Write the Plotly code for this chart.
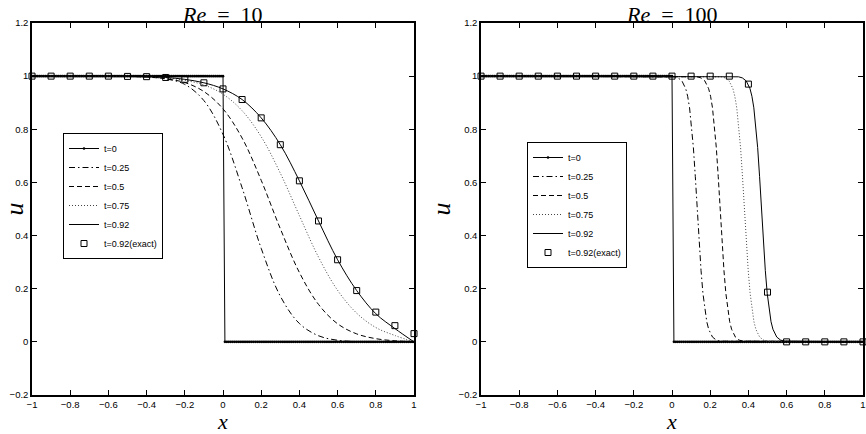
import numpy as np
import plotly.graph_objects as go

# ---------------- data ----------------
# grid used for the initial step (t=0)
x_grid = np.round(np.linspace(-1.0, 1.0, 201), 2)
u_t0 = [1.0] * 101 + [0.0] * 100

# Re = 10 numerical curves
x_re10 = [-1.0, -0.6, -0.5, -0.4, -0.3, -0.2, -0.1, 0.0, 0.1, 0.2, 0.3, 0.4, 0.5, 0.6, 0.7, 0.8, 0.9, 1.0]
u10_t025 = [1.0, 1.0, 0.9995, 0.9975, 0.990, 0.969, 0.908, 0.781, 0.580, 0.352, 0.172, 0.069, 0.023, 0.006, 0.001, 0.0, 0.0, 0.0]
u10_t050 = [1.0, 0.9996, 0.9988, 0.9965, 0.990, 0.976, 0.942, 0.877, 0.767, 0.608, 0.426, 0.261, 0.141, 0.068, 0.030, 0.012, 0.004, 0.0]
u10_t075 = [1.0, 0.9995, 0.9988, 0.997, 0.993, 0.984, 0.967, 0.932, 0.870, 0.772, 0.635, 0.475, 0.319, 0.194, 0.108, 0.054, 0.024, 0.0]
u10_t092 = [1.0, 1.0, 0.999, 0.998, 0.995, 0.988, 0.975, 0.952, 0.912, 0.843, 0.742, 0.606, 0.455, 0.309, 0.193, 0.106, 0.050, 0.0]

# exact solution samples (squares)
x_exact = [-1.0, -0.9, -0.8, -0.7, -0.6, -0.5, -0.4, -0.3, -0.2, -0.1, 0.0,
           0.1, 0.2, 0.3, 0.4, 0.5, 0.6, 0.7, 0.8, 0.9, 1.0]
u10_exact = [1.0, 1.0, 1.0, 1.0, 1.0, 0.999, 0.998, 0.995, 0.988, 0.975, 0.952,
             0.912, 0.843, 0.742, 0.606, 0.455, 0.309, 0.193, 0.112, 0.061, 0.031]
u100_exact = [1.0, 1.0, 1.0, 1.0, 1.0, 1.0, 1.0, 1.0, 1.0, 1.0, 1.0,
              1.0, 1.0, 1.0, 0.970, 0.187, 0.0, 0.0, 0.0, 0.0, 0.0]

# Re = 100 numerical curves (steep fronts)
u100_front = [1.0, 0.9975, 0.9933, 0.9820, 0.9526, 0.9241, 0.8808, 0.8176, 0.7311, 0.6225, 0.5,
              0.3775, 0.2689, 0.1824, 0.1192, 0.0759, 0.0474, 0.0180, 0.0067, 0.0025, 0.0]
x100_t025 = [-1.0, 0.012, 0.032, 0.052, 0.072, 0.082, 0.092, 0.102, 0.112, 0.122, 0.132,
             0.142, 0.152, 0.162, 0.172, 0.182, 0.192, 0.212, 0.232, 0.252, 1.0]
x100_t050 = [-1.0, 0.132, 0.152, 0.172, 0.192, 0.202, 0.212, 0.222, 0.232, 0.242, 0.252,
             0.262, 0.272, 0.282, 0.292, 0.302, 0.312, 0.332, 0.352, 0.372, 1.0]
x100_t075 = [-1.0, 0.259, 0.279, 0.299, 0.319, 0.329, 0.339, 0.349, 0.359, 0.369, 0.379,
             0.389, 0.399, 0.409, 0.419, 0.429, 0.439, 0.459, 0.479, 0.499, 1.0]
x100_t092 = [-1.0, 0.3485, 0.3685, 0.3885, 0.4085, 0.4185, 0.4285, 0.4385, 0.4485, 0.4585, 0.4685,
             0.4785, 0.4885, 0.4985, 0.5085, 0.5185, 0.5285, 0.5485, 0.5685, 0.5885, 1.0]

x_tickvals = [-1, -0.8, -0.6, -0.4, -0.2, 0, 0.2, 0.4, 0.6, 0.8, 1]
x_ticktext = ["\u22121", "\u22120.8", "\u22120.6", "\u22120.4", "\u22120.2", "0", "0.2", "0.4", "0.6", "0.8", "1"]
y_tickvals = [-0.2, 0, 0.2, 0.4, 0.6, 0.8, 1, 1.2]
y_ticktext = ["\u22120.2", "0", "0.2", "0.4", "0.6", "0.8", "1", "1.2"]

names = ["t=0", "t=0.25", "t=0.5", "t=0.75", "t=0.92", "t=0.92(exact)"]
panel_titles = ["<i>Re</i>\u2002=\u200210", "<i>Re</i>\u2002=\u2002100"]

# ---------------- figure ----------------
W, H = 866, 434
fig = go.Figure()

DASH = "5px,3px"
DASHDOT = "6px,3px,1.5px,3px"
DOT = "1px,2px"


def add_panel(xa, ya, legend, curves, shapes, exact_u):
    # t=0
    fig.add_trace(go.Scatter(x=x_grid, y=u_t0, mode="lines+markers", name=names[0],
                             line=dict(color="black", width=1),
                             marker=dict(symbol="circle", size=2.6, color="black"),
                             xaxis=xa, yaxis=ya, legend=legend, cliponaxis=False))
    styles = [(DASHDOT, "black"), (DASH, "black"), (DOT, "#444444"), ("solid", "black")]
    for (cx, cy), (dash, col), nm, shp in zip(curves, styles, names[1:5], shapes):
        fig.add_trace(go.Scatter(x=cx, y=cy, mode="lines", name=nm,
                                 line=dict(color=col, width=1, dash=dash, shape=shp),
                                 xaxis=xa, yaxis=ya, legend=legend))
    fig.add_trace(go.Scatter(x=x_exact, y=exact_u, mode="markers", name=names[5],
                             marker=dict(symbol="square-open", size=6, color="black",
                                         line=dict(width=1, color="black")),
                             xaxis=xa, yaxis=ya, legend=legend, cliponaxis=False))


add_panel("x", "y", "legend",
          [(x_re10, u10_t025), (x_re10, u10_t050), (x_re10, u10_t075), (x_re10, u10_t092)],
          ["spline"] * 4, u10_exact)
add_panel("x2", "y2", "legend2",
          [(x100_t025, u100_front), (x100_t050, u100_front), (x100_t075, u100_front), (x100_t092, u100_front)],
          ["linear"] * 4, u100_exact)

tickfont = dict(family="Liberation Sans, Arial, sans-serif", size=9.5, color="black")
xtitlefont = dict(family="Liberation Serif, serif", size=22, color="black")
ytitlefont = dict(family="Liberation Serif, serif", size=26, color="black")

ydom = [39 / H, 411 / H]
common_x = dict(range=[-1, 1], tickvals=x_tickvals, ticktext=x_ticktext, ticks="inside", ticklen=5,
                tickwidth=1, tickcolor="black", mirror="ticks", showline=True, linecolor="black",
                linewidth=1.5, showgrid=False, zeroline=False, tickfont=tickfont, automargin=False,
                ticklabeloverflow="allow",
                title=dict(text="<i>x</i>", font=xtitlefont, standoff=0))
common_y = dict(range=[-0.2, 1.2], tickvals=y_tickvals, ticktext=y_ticktext, ticks="inside", ticklen=5,
                tickwidth=1, tickcolor="black", mirror="ticks", showline=True, linecolor="black",
                linewidth=1.5, showgrid=False, zeroline=False, tickfont=tickfont, domain=ydom,
                automargin=False, ticklabeloverflow="allow",
                title=dict(text="<i>u</i>", font=ytitlefont, standoff=0))

legend_common = dict(xanchor="left", yanchor="top", bordercolor="black", borderwidth=1,
                     bgcolor="white", itemwidth=30, tracegroupgap=0,
                     font=dict(family="Liberation Sans, Arial, sans-serif", size=9, color="black"))

fig.update_layout(
    width=W, height=H,
    margin=dict(l=0, r=0, t=0, b=0, autoexpand=False),
    paper_bgcolor="white", plot_bgcolor="white",
    xaxis=dict(domain=[32 / W, 414 / W], anchor="y", **common_x),
    yaxis=dict(anchor="x", **common_y),
    xaxis2=dict(domain=[481 / W, 863 / W], anchor="y2", **common_x),
    yaxis2=dict(anchor="x2", **common_y),
    legend=dict(x=63 / W, y=1 - 133 / H, **legend_common),
    legend2=dict(x=527 / W, y=1 - 142 / H, **legend_common),
    showlegend=True,
    annotations=[
        dict(text=panel_titles[0], x=(32 + 414) / 2 / W, y=1.0, xref="paper", yref="paper",
             showarrow=False, xanchor="center", yanchor="top",
             font=dict(family="Liberation Serif, serif", size=22, color="black")),
        dict(text=panel_titles[1], x=(481 + 863) / 2 / W, y=1.0, xref="paper", yref="paper",
             showarrow=False, xanchor="center", yanchor="top",
             font=dict(family="Liberation Serif, serif", size=22, color="black")),
    ],
)

fig.write_html("out.html")
